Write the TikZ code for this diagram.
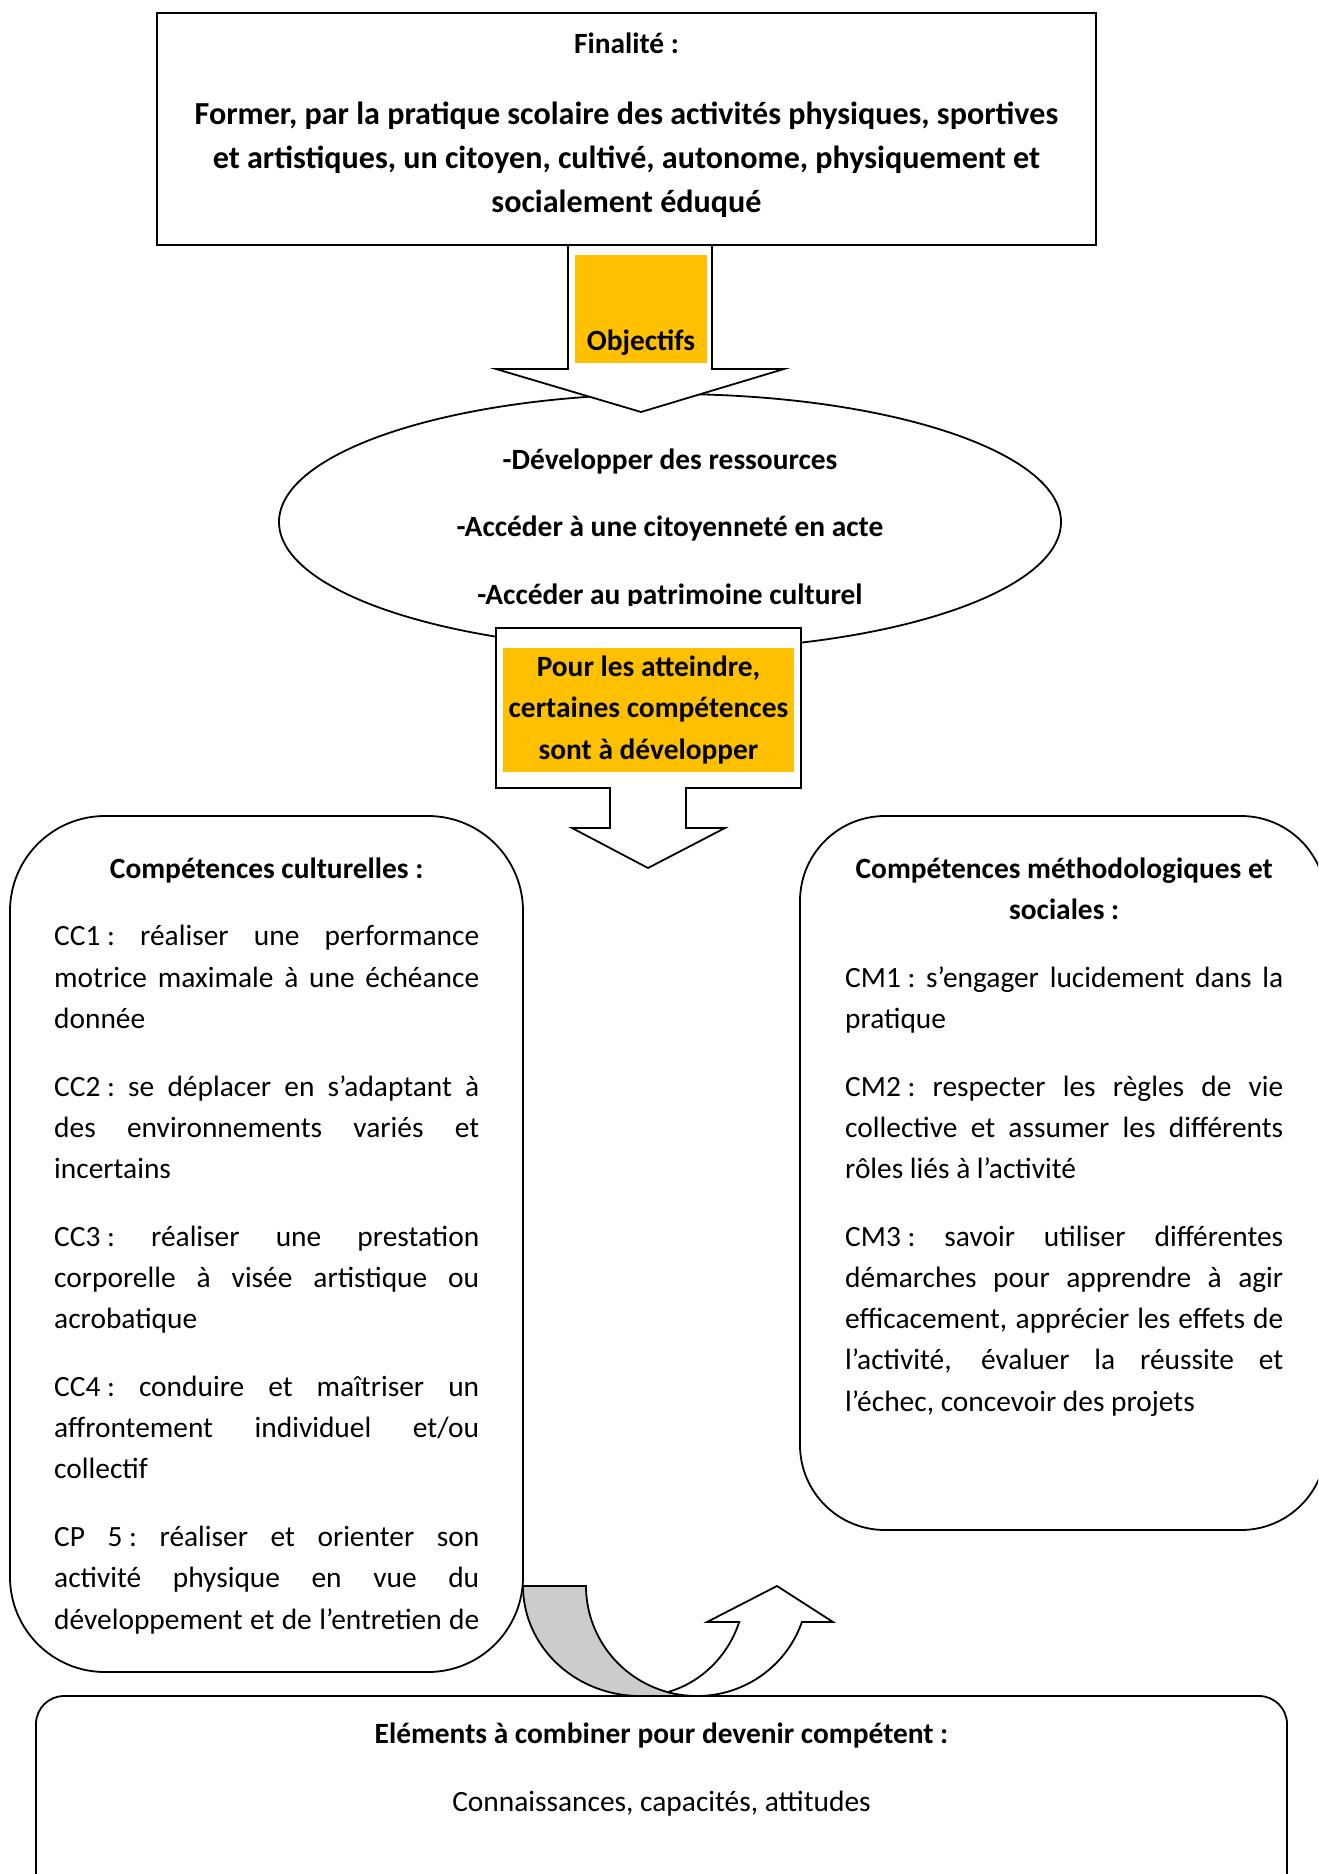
\documentclass[tikz,border=0pt]{standalone}
\usepackage{fontspec}
\setmainfont{Carlito}
\usetikzlibrary{shapes.geometric}

\definecolor{orangeobj}{HTML}{FFC000}
\newcommand{\ligne}[1]{\makebox[\hsize][s]{#1}}
\newcommand{\espaces}{\spaceskip=0pt\xspaceskip=0pt\relax}

\begin{document}
\begin{tikzpicture}[x=1pt, y=-1pt,
    cadre/.style={draw, line width=1.8pt, fill=white},
    fleche/.style={draw, line width=1.8pt, fill=white, line join=miter},
    fond/.style={fill=orangeobj, inner sep=0pt},
    gras/.style={font=\fontsize{29.4}{41.2}\selectfont\bfseries, inner sep=0pt},
    texte/.style={font=\fontsize{29.4}{41.2}\selectfont, inner sep=0pt, align=left}
  ]
  \clip (0,0) rectangle (1318,1874);

  % cadre du bas
  \node[cadre, rounded corners=28pt, minimum width=1251pt, minimum height=254pt] (combiner) at (661.5,1823) {};
  \node[gras, anchor=base] (elements) at (661.5,1743) {Eléments à combiner pour devenir compétent :};
  \node[texte, anchor=base] (ressources) at (661.5,1811) {Connaissances, capacités, attitudes};

  % fleche courbe
  \draw[fleche, fill=gray!40] plot[domain=180:90, samples=40] ({640+117*cos(\x)}, {1586+110*sin(\x)})
    -- plot[domain=90:180, samples=40] ({697+111*cos(\x)}, {1586+110*sin(\x)}) -- cycle;
  \draw[fleche] plot[domain=90:19.1, samples=40] ({697+111*cos(\x)}, {1586+110*sin(\x)})
    -- (833,1622) -- (777,1586) -- (707,1622) -- (739,1622)
    -- plot[domain=19.1:74.5, samples=30] ({640+105*cos(\x)}, {1586+110*sin(\x)})
    -- plot[domain=105.1:90, samples=10] ({697+111*cos(\x)}, {1586+110*sin(\x)}) -- cycle;

  % competences
  \node[cadre, rounded corners=95pt, minimum width=513pt, minimum height=856pt] (cultur) at (266.5,1244) {};
  \node[cadre, rounded corners=85pt, minimum width=526pt, minimum height=714pt] (method) at (1063,1173) {};

  \node[texte, text width=425pt, anchor=base west] (cctexte) at (54,878) {\espaces
    \makebox[\hsize]{\bfseries Compétences culturelles :}\\[26.6pt]
    \ligne{\mbox{CC1 :} réaliser une performance}\\
    \ligne{motrice maximale à une échéance}\\
    donnée\\[26.6pt]
    \ligne{\mbox{CC2 :} se déplacer en s’adaptant à}\\
    \ligne{des environnements variés et}\\
    incertains\\[26.6pt]
    \ligne{\mbox{CC3 :} réaliser une prestation}\\
    \ligne{corporelle à visée artistique ou}\\
    acrobatique\\[26.6pt]
    \ligne{\mbox{CC4 :} conduire et maîtriser un}\\
    \ligne{affrontement individuel et/ou}\\
    collectif\\[26.6pt]
    \ligne{CP \mbox{5 :} réaliser et orienter son}\\
    \ligne{activité physique en vue du}\\
    \ligne{développement et de l’entretien de}};

  \node[texte, text width=438pt, anchor=base west] (cmtexte) at (845,878) {\espaces
    \makebox[\hsize]{\bfseries Compétences méthodologiques et}\\
    \makebox[\hsize]{\bfseries sociales :}\\[26.6pt]
    \ligne{\mbox{CM1 :} s’engager lucidement dans la}\\
    pratique\\[26.6pt]
    \ligne{\mbox{CM2 :} respecter les règles de vie}\\
    \ligne{collective et assumer les différents}\\
    rôles liés à l’activité\\[26.6pt]
    \ligne{\mbox{CM3 :} savoir utiliser différentes}\\
    \ligne{démarches pour apprendre à agir}\\
    \ligne{efficacement, apprécier les effets de}\\
    \ligne{l’activité, évaluer la réussite et}\\
    l’échec, concevoir des projets};

  % objectifs
  \node[cadre, ellipse, minimum width=782pt, minimum height=256pt, inner sep=0pt] (buts) at (670,522) {};
  \begin{scope}
    \clip (280,394) rectangle (1061,605);
    \node[gras, align=center, anchor=base, font=\fontsize{29.4}{67.5}\selectfont\bfseries] (butstexte) at (670,604)
      {-Développer des ressources\\ -Accéder à une citoyenneté en acte\\ -Accéder au patrimoine culturel};
  \end{scope}

  % pour les atteindre
  \draw[fleche] (496,628) -- (801,628) -- (801,788) -- (686,788) -- (686,828) -- (725,828)
    -- (648,868) -- (572,828) -- (610,828) -- (610,788) -- (496,788) -- cycle;
  \node[fond, minimum width=291pt, minimum height=124pt] (attfond) at (648.5,710) {};
  \node[gras, align=center, anchor=base] (atteindre) at (648.5,759)
    {Pour les atteindre,\\ certaines compétences\\ sont à développer};

  % fleche objectifs
  \draw[fleche] (568,245) -- (568,369) -- (496,369) -- (641,412) -- (784,369) -- (712,369) -- (712,245) -- cycle;
  \node[fond, minimum width=132pt, minimum height=108pt] (objfond) at (641,309) {};
  \node[gras, anchor=base] (objectifs) at (641,350) {Objectifs};

  % finalite
  \node[cadre, minimum width=939pt, minimum height=232pt] (finalite) at (626.5,129) {};
  \node[gras, anchor=base] (titrefin) at (626.5,53) {Finalité :};
  \node[gras, align=center, anchor=base, font=\fontsize{32.1}{44}\selectfont\bfseries] (former) at (626.5,212)
    {Former, par la pratique scolaire des activités physiques, sportives\\
     et artistiques, un citoyen, cultivé, autonome, physiquement et\\
     socialement éduqué};
\end{tikzpicture}
\end{document}
